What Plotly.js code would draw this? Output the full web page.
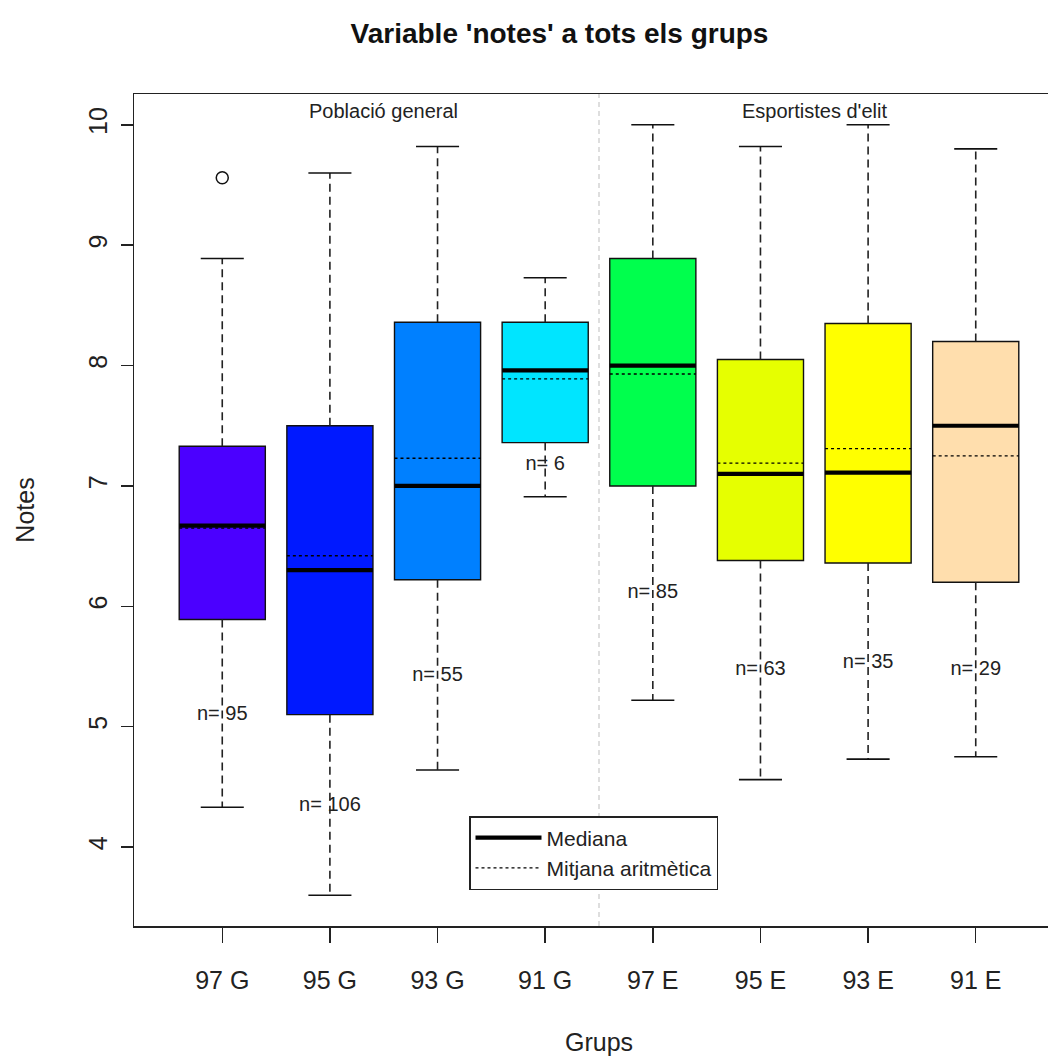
<!DOCTYPE html>
<html>
<head>
<meta charset="utf-8">
<script src="https://cdn.plot.ly/plotly-3.0.1.min.js"></script>
<style>
html, body { margin: 0; padding: 0; overflow: hidden; background: #fff; }
#chart { width: 1080px; height: 1056px; }
</style>
</head>
<body>
<div id="chart"></div>
<script>
// ---- data ----
var groups   = ['97 G', '95 G', '93 G', '91 G', '97 E', '95 E', '93 E', '91 E'];
var lowerWhisker = [4.33, 3.60, 4.64, 6.91, 5.22, 4.56, 4.73, 4.75];
var q1       = [5.89, 5.10, 6.22, 7.36, 7.00, 6.38, 6.36, 6.20];
var medians  = [6.67, 6.30, 7.00, 7.96, 8.00, 7.10, 7.11, 7.50];
var q3       = [7.33, 7.50, 8.36, 8.36, 8.89, 8.05, 8.35, 8.20];
var upperWhisker = [8.89, 9.60, 9.82, 8.73, 10.00, 9.82, 10.00, 9.80];
var means    = [6.65, 6.42, 7.23, 7.89, 7.93, 7.19, 7.31, 7.25];
var counts   = [95, 106, 55, 6, 85, 63, 35, 29];
var countLabelY = [5.10, 4.34, 5.42, 7.17, 6.11, 5.47, 5.53, 5.47];
var outlierGroup = [1];
var outlierValue = [9.56];
var colors = ['#4B00FF', '#0019FF', '#0080FF', '#00E5FF', '#00FF4D', '#E6FF00', '#FFFF00', '#FFDEAD'];
var sectionLabels = ['Població general', "Esportistes d'elit"];
var sectionCenters = [2.5, 6.5];
var sectionBoundary = 4.5;
var yTicks = [4, 5, 6, 7, 8, 9, 10];

// ---- styling constants ----
var FONT = 'Liberation Sans, Arial, Helvetica, sans-serif';
var BOXW = 0.8, CAPW = 0.2, HALF = BOXW / 2;

var pos = groups.map(function (g, i) { return i + 1; });

function segs(yA, yB, halfW) {
  var xs = [], ys = [];
  pos.forEach(function (p, i) {
    xs.push(p - halfW, p + halfW, null);
    ys.push(yA[i], yB[i], null);
  });
  return {x: xs, y: ys};
}

var whiskX = [], whiskY = [];
pos.forEach(function (p, i) {
  whiskX.push(p, p, null, p, p, null);
  whiskY.push(q3[i], upperWhisker[i], null, q1[i], lowerWhisker[i], null);
});
var capUp = segs(upperWhisker, upperWhisker, CAPW);
var capLo = segs(lowerWhisker, lowerWhisker, CAPW);
var medSeg = segs(medians, medians, HALF);
var meanSeg = segs(means, means, HALF);

var traces = [
  {
    type: 'bar', x: pos, base: q1,
    y: q3.map(function (v, i) { return v - q1[i]; }),
    width: BOXW,
    marker: {color: colors, line: {color: '#111', width: 1.4}},
    showlegend: false, hoverinfo: 'skip'
  },
  {
    type: 'scatter', mode: 'lines', x: whiskX, y: whiskY,
    line: {color: '#222', width: 1.6, dash: '8px,5px'},
    showlegend: false, hoverinfo: 'skip'
  },
  {
    type: 'scatter', mode: 'lines',
    x: capUp.x.concat(capLo.x), y: capUp.y.concat(capLo.y),
    line: {color: '#111', width: 1.6},
    showlegend: false, hoverinfo: 'skip'
  },
  {
    type: 'scatter', mode: 'lines', x: medSeg.x, y: medSeg.y,
    name: 'Mediana',
    line: {color: '#000', width: 4.2},
    hoverinfo: 'skip'
  },
  {
    type: 'scatter', mode: 'lines', x: meanSeg.x, y: meanSeg.y,
    name: 'Mitjana aritmètica',
    line: {color: '#000', width: 1.3, dash: '3px,3px'},
    hoverinfo: 'skip'
  },
  {
    type: 'scatter', mode: 'markers', x: outlierGroup, y: outlierValue,
    marker: {symbol: 'circle-open', size: 12, color: '#111', line: {width: 1.5}},
    showlegend: false, hoverinfo: 'skip'
  },
  {
    type: 'scatter', mode: 'text', x: pos, y: countLabelY,
    text: counts.map(function (n) { return 'n= ' + n; }),
    textfont: {family: FONT, size: 20, color: '#222'},
    textposition: 'middle center',
    showlegend: false, hoverinfo: 'skip'
  }
];

var annotations = sectionLabels.map(function (t, i) {
  return {
    text: t, x: sectionCenters[i], xref: 'x', y: 0.98, yref: 'paper',
    xanchor: 'center', yanchor: 'middle', showarrow: false,
    font: {family: FONT, size: 20, color: '#222'}
  };
});

var layout = {
  width: 1080, height: 1056,
  margin: {l: 134, r: 16, t: 94, b: 130},
  paper_bgcolor: '#fff', plot_bgcolor: '#fff',
  font: {family: FONT, color: '#222'},
  title: {
    text: "<b>Variable 'notes' a tots els grups</b>",
    font: {family: FONT, size: 28, color: '#111'},
    x: 559.5 / 1080, xref: 'container', xanchor: 'center',
    y: 1 - 33 / 1056, yref: 'container', yanchor: 'middle'
  },
  xaxis: {
    range: [0.18, 8.82], tickvals: pos, ticktext: groups,
    showgrid: false, zeroline: false,
    showline: true, mirror: true, linecolor: '#222', linewidth: 1.5,
    ticks: 'outside', ticklen: 15, tickwidth: 1.5, tickcolor: '#222',
    tickfont: {family: FONT, size: 25, color: '#222'},
    ticklabelstandoff: 16,
    title: {text: 'Grups', font: {family: FONT, size: 25, color: '#222'}, standoff: 42}
  },
  yaxis: {
    range: [3.344, 10.256], tickvals: yTicks,
    showgrid: false, zeroline: false,
    showline: true, mirror: true, linecolor: '#222', linewidth: 1.5,
    ticks: 'outside', ticklen: 12, tickwidth: 1.5, tickcolor: '#222',
    tickangle: -90,
    tickfont: {family: FONT, size: 25, color: '#222'},
    ticklabelstandoff: 4,
    title: {text: 'Notes', font: {family: FONT, size: 25, color: '#222'}, standoff: 42}
  },
  shapes: [{
    type: 'line', xref: 'x', yref: 'paper', x0: sectionBoundary, x1: sectionBoundary, y0: 0, y1: 1,
    line: {color: '#c8c8c8', width: 1.2, dash: '5px,4px'}, layer: 'below'
  }],
  annotations: annotations,
  showlegend: true,
  legend: {
    x: (469 - 134) / 930, y: 1 - (816 - 94) / 832, xanchor: 'left', yanchor: 'top',
    bgcolor: '#fff', bordercolor: '#222', borderwidth: 1.5,
    font: {family: FONT, size: 21, color: '#222'},
    tracegroupgap: 0, itemwidth: 66
  }
};

Plotly.newPlot('chart', traces, layout, {displayModeBar: false, responsive: false, staticPlot: true});
</script>
</body>
</html>
